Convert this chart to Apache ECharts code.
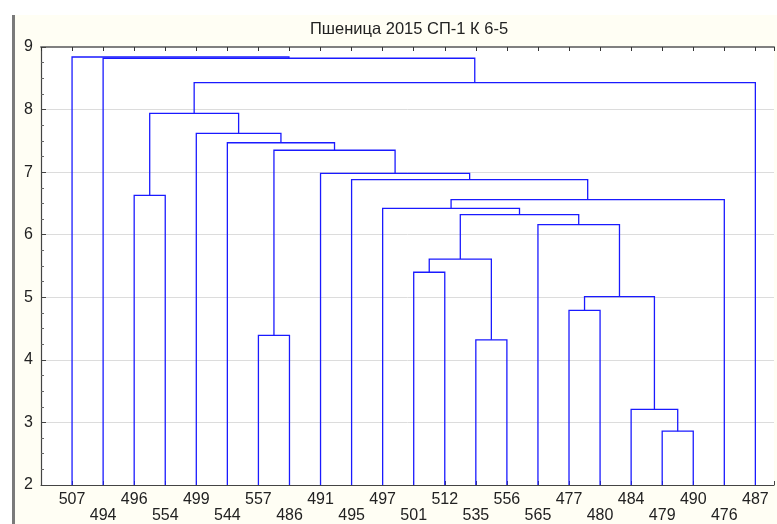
<!DOCTYPE html>
<html><head><meta charset="utf-8">
<script src="https://cdn.jsdelivr.net/npm/echarts@6/dist/echarts.min.js"></script>
<style>html,body{margin:0;padding:0;background:#fff}#c{width:777px;height:524px}</style>
</head><body><div id="c"></div>
<script>
// Leaf labels in display order
const leaves = ['507','494','496','554','499','544','557','486','491','495','497','501','512','535','556','565','477','480','484','479','490','476','487'];
// Merges: [childA, childB, height]; node ids 0..22 are leaves, 23+ are merges in order
const merges = [
  [2, 3, 6.63],   // 23
  [6, 7, 4.39],   // 24
  [11, 12, 5.40], // 25
  [13, 14, 4.32], // 26
  [16, 17, 4.79], // 27
  [19, 20, 2.86], // 28
  [18, 28, 3.21], // 29
  [27, 29, 5.01], // 30
  [15, 30, 6.16], // 31
  [25, 26, 5.61], // 32
  [32, 31, 6.32], // 33
  [10, 33, 6.42], // 34
  [34, 21, 6.56], // 35
  [9, 35, 6.88],  // 36
  [8, 36, 6.98],  // 37
  [24, 37, 7.35], // 38
  [5, 38, 7.47],  // 39
  [4, 39, 7.62],  // 40
  [23, 40, 7.94], // 41
  [41, 22, 8.43], // 42
  [1, 42, 8.82],  // 43
  [0, 43, 8.84]   // 44
];
const yTicks = [2,3,4,5,6,7,8,9];
const titleText = 'Пшеница 2015 СП-1 К 6-5';

const base = yTicks[0];
const nodeX = [], nodeY = [];
leaves.forEach((l, i) => { nodeX.push(i + 1); nodeY.push(base); });
const segs = [];
merges.forEach(m => {
  const [a, b, h] = m;
  const xa = nodeX[a], xb = nodeX[b];
  segs.push({coords: [[xa, nodeY[a]], [xa, h], [xb, h], [xb, nodeY[b]]]});
  nodeX.push((xa + xb) / 2); nodeY.push(h);
});

const chart = echarts.init(document.getElementById('c'), null, {renderer: 'canvas'});
const font = 'Liberation Sans, Arial, sans-serif';
const xMax = leaves.length + 0.6;
chart.setOption({
  backgroundColor: '#ffffff',
  animation: false,
  graphic: [
    {type: 'rect', z: -10, shape: {x: 15, y: 15, width: 762, height: 509}, style: {fill: '#fffef4'}, silent: true},
    {type: 'rect', z: -10, shape: {x: 12, y: 15, width: 3, height: 509}, style: {fill: '#7a7a7a'}, silent: true},
    {type: 'text', z: 10, x: 409, y: 29, style: {text: titleText, font: '16.5px ' + font, fill: '#222', textAlign: 'center', textVerticalAlign: 'middle'}}
  ],
  grid: {left: 41, right: 0, top: 47, bottom: 39, show: true, backgroundColor: '#ffffff', borderWidth: 0},
  xAxis: [
    {type: 'value', position: 'bottom', min: 0, max: xMax, interval: 1,
     axisLine: {show: true, onZero: false, lineStyle: {color: '#444', width: 1.2}},
     axisTick: {show: true, inside: true, length: 4, lineStyle: {color: '#444'}},
     splitLine: {show: false},
     axisLabel: {show: true, margin: 7, fontFamily: font, fontSize: 16, color: '#222', lineHeight: 16,
       showMinLabel: true, showMaxLabel: true,
       formatter: v => { if (Math.abs(v - Math.round(v)) > 1e-6) return ''; const i = Math.round(v); if (i < 1 || i > leaves.length) return ''; return (i % 2 === 0 ? '\n' : '') + leaves[i - 1]; }}},
    {type: 'value', position: 'top', min: 0, max: xMax, interval: 1,
     axisLine: {show: true, onZero: false, lineStyle: {color: '#808080', width: 2}},
     axisTick: {show: true, inside: true, length: 4, lineStyle: {color: '#333'}},
     splitLine: {show: false}, axisLabel: {show: false}}
  ],
  yAxis: {type: 'value', min: yTicks[0], max: yTicks[yTicks.length - 1], interval: 1,
    axisLine: {show: true, lineStyle: {color: '#444', width: 1.2}},
    axisTick: {show: true, inside: true, length: 5, lineStyle: {color: '#444'}},
    minorTick: {show: true, splitNumber: 4, length: 3, lineStyle: {color: '#666'}},
    splitLine: {show: true, lineStyle: {color: '#dcdcdc', width: 1}},
    axisLabel: {margin: 8, fontFamily: font, fontSize: 16, color: '#222'}},
  series: [{
    type: 'lines', coordinateSystem: 'cartesian2d', polyline: true, xAxisIndex: 0, yAxisIndex: 0,
    lineStyle: {color: '#1a1aff', width: 1.3, opacity: 1},
    data: segs, silent: true
  }]
});
</script></body></html>
